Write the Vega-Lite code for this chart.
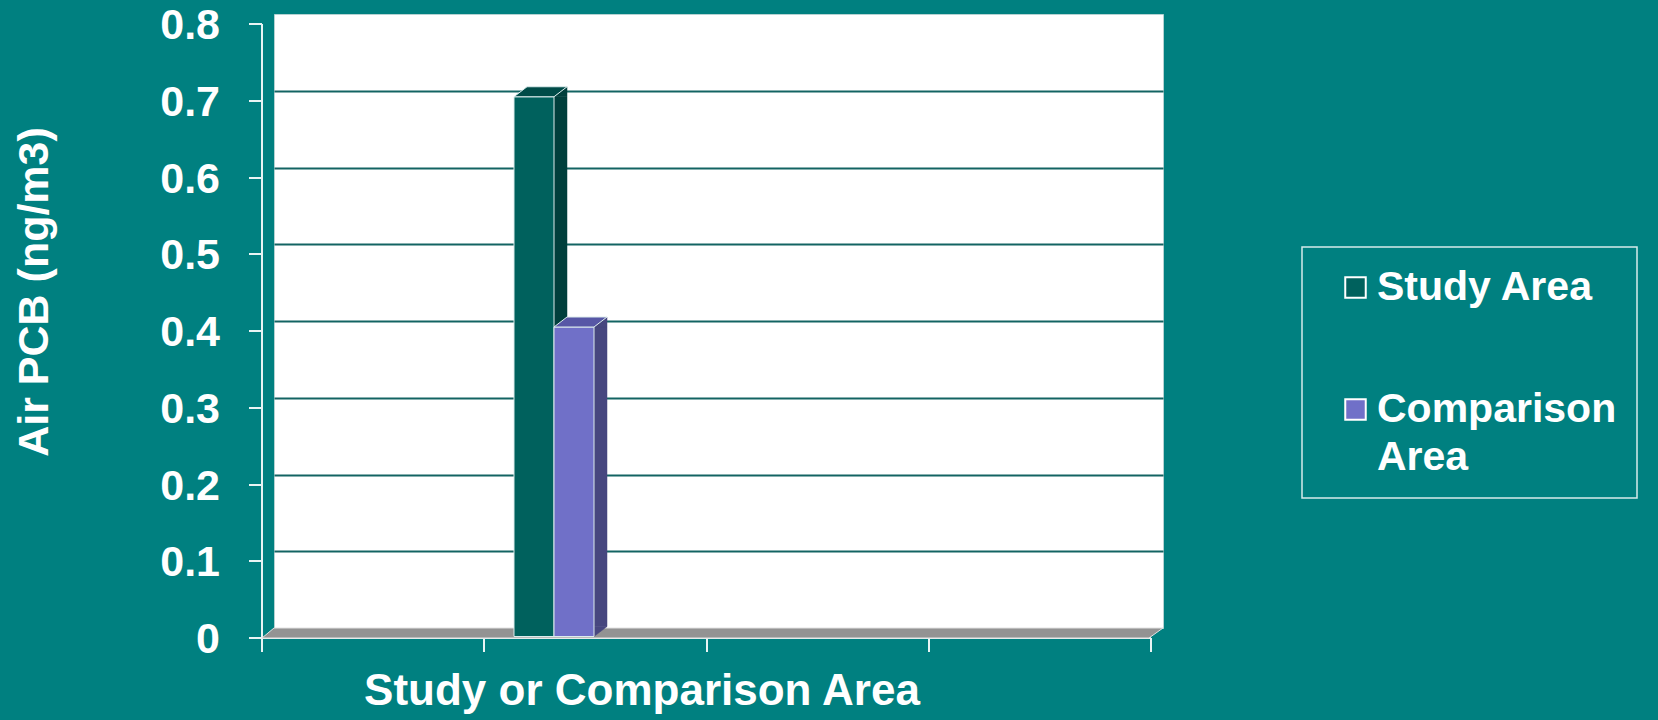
{
  "$schema": "https://vega.github.io/schema/vega-lite/v6.json",
  "width": 889,
  "height": 614,
  "autosize": {"type": "none"},
  "padding": {"left": 274, "top": 14, "right": 495, "bottom": 92},
  "background": "#008080",
  "config": {
    "font": "Liberation Sans",
    "view": {"fill": "white", "stroke": "#b4d2d2", "strokeWidth": 1},
    "legend": {"strokeWidth": 1.5},
    "style": {"guide-label": {"lineHeight": 48}}
  },
  "datasets": {
    "pcb": [
      {"area": "Study Area", "pcb": 0.7},
      {"area": "Comparison Area", "pcb": 0.4}
    ]
  },
  "data": {"name": "pcb"},
  "resolve": {"scale": {"x": "independent"}, "axis": {"y": "independent"}},
  "layer": [
    {
      "data": {"values": [{}]},
      "mark": {
        "type": "point",
        "shape": "M-444.5,0L444.5,0L430.5,10L-456.5,10Z",
        "size": 4,
        "filled": true,
        "opacity": 1,
        "fill": "#939393",
        "stroke": "#e2e2e2",
        "strokeWidth": 1
      },
      "encoding": {
        "x": {
          "datum": 2,
          "type": "quantitative",
          "scale": {"domain": [0, 4], "nice": false, "zero": false},
          "axis": {
            "orient": "bottom",
            "offset": 22,
            "translate": -12,
            "values": [0, 1, 2, 3, 4],
            "labels": false,
            "grid": false,
            "domainColor": "#e8f4f4",
            "domainWidth": 2,
            "tickColor": "#e8f4f4",
            "tickWidth": 2,
            "tickSize": 14,
            "title": "Study or Comparison Area",
            "titleColor": "white",
            "titleFontSize": 44,
            "titleFontWeight": "bold",
            "titleX": 380,
            "titleY": 67,
            "titleAlign": "center",
            "titleBaseline": "alphabetic"
          }
        },
        "y": {
          "datum": 0,
          "type": "quantitative",
          "scale": {"domain": [0, 0.8], "nice": false},
          "axis": {
            "orient": "left",
            "values": [0.1, 0.2, 0.3, 0.4, 0.5, 0.6, 0.7],
            "grid": true,
            "gridColor": "#136463",
            "gridWidth": 2,
            "labels": false,
            "ticks": false,
            "domain": false,
            "title": null
          }
        }
      }
    },
    {
      "mark": {"type": "bar", "width": 13, "xOffset": 26.5, "yOffset": 6, "y2Offset": -1.5, "strokeWidth": 0.5},
      "encoding": {
        "x": {
          "field": "area",
          "type": "nominal",
          "scale": {"type": "band", "domain": ["Study Area", "Comparison Area"], "range": [240, 320], "paddingInner": 0, "paddingOuter": 0},
          "axis": null
        },
        "y": {
          "field": "pcb",
          "type": "quantitative",
          "axis": {
            "orient": "left",
            "offset": 22,
            "translate": 10,
            "values": [0, 0.1, 0.2, 0.3, 0.4, 0.5, 0.6, 0.7, 0.8],
            "format": ".1~f",
            "grid": false,
            "domainColor": "#e8f4f4",
            "domainWidth": 2,
            "tickColor": "#e8f4f4",
            "tickWidth": 2,
            "tickSize": 13,
            "labelColor": "white",
            "labelFontSize": 43,
            "labelFontWeight": "bold",
            "labelPadding": 29,
            "labelOffset": 2,
            "title": "Air PCB (ng/m3)",
            "titleColor": "white",
            "titleFontSize": 43,
            "titleFontWeight": "bold",
            "titleAngle": 270,
            "titleX": -214,
            "titleY": 268,
            "titleAlign": "center",
            "titleBaseline": "alphabetic"
          }
        },
        "y2": {"datum": 0},
        "fill": {"condition": {"test": "datum.area === 'Study Area'", "value": "#003f3c"}, "value": "#47477f"},
        "stroke": {"condition": {"test": "datum.area === 'Study Area'", "value": "#003f3c"}, "value": "#47477f"}
      }
    },
    {
      "mark": {"type": "point", "shape": "M20,6L33,-4L33,6Z", "size": 4, "filled": true, "opacity": 1, "strokeWidth": 0.5},
      "encoding": {
        "x": {
          "field": "area",
          "type": "nominal",
          "scale": {"type": "band", "domain": ["Study Area", "Comparison Area"], "range": [240, 320], "paddingInner": 0, "paddingOuter": 0},
          "axis": null
        },
        "y": {"field": "pcb", "type": "quantitative", "axis": null},
        "fill": {"condition": {"test": "datum.area === 'Study Area'", "value": "#003f3c"}, "value": "#47477f"},
        "stroke": {"condition": {"test": "datum.area === 'Study Area'", "value": "#003f3c"}, "value": "#47477f"}
      }
    },
    {
      "mark": {"type": "point", "shape": "M20,-1.5L33,-1.5L20,8.5Z", "size": 4, "filled": true, "opacity": 1, "strokeWidth": 0.5},
      "encoding": {
        "x": {
          "field": "area",
          "type": "nominal",
          "scale": {"type": "band", "domain": ["Study Area", "Comparison Area"], "range": [240, 320], "paddingInner": 0, "paddingOuter": 0},
          "axis": null
        },
        "y": {"datum": 0, "type": "quantitative", "axis": null},
        "fill": {"condition": {"test": "datum.area === 'Study Area'", "value": "#003f3c"}, "value": "#47477f"},
        "stroke": {"condition": {"test": "datum.area === 'Study Area'", "value": "#003f3c"}, "value": "#47477f"}
      }
    },
    {
      "mark": {"type": "bar", "yOffset": 6, "y2Offset": 8.5, "stroke": "#dcecec", "strokeWidth": 1},
      "encoding": {
        "x": {
          "field": "area",
          "type": "nominal",
          "scale": {"type": "band", "domain": ["Study Area", "Comparison Area"], "range": [240, 320], "paddingInner": 0, "paddingOuter": 0},
          "axis": null
        },
        "y": {"field": "pcb", "type": "quantitative", "axis": null},
        "y2": {"datum": 0},
        "color": {
          "field": "area",
          "type": "nominal",
          "scale": {"domain": ["Study Area", "Comparison Area"], "range": ["#00615d", "#7070c8"]},
          "legend": {
            "orient": "none",
            "legendX": 1028,
            "legendY": 233,
            "title": null,
            "padding": 20,
            "symbolOffset": 13,
            "strokeColor": "#d6eaea",
            "labelColor": "white",
            "labelFontSize": 41,
            "labelFontWeight": "bold",
            "labelLimit": 400,
            "labelOffset": 1,
            "symbolType": "square",
            "symbolSize": 420,
            "symbolStrokeColor": "white",
            "symbolStrokeWidth": 2,
            "rowPadding": 80,
            "labelExpr": "datum.label == 'Comparison Area' ? ['Comparison', 'Area'] : datum.label"
          }
        }
      }
    },
    {
      "mark": {"type": "point", "shape": "M-20,6L20,6L33,-4L-7,-4Z", "size": 4, "filled": true, "opacity": 1, "stroke": "#dcecec", "strokeWidth": 1},
      "encoding": {
        "x": {
          "field": "area",
          "type": "nominal",
          "scale": {"type": "band", "domain": ["Study Area", "Comparison Area"], "range": [240, 320], "paddingInner": 0, "paddingOuter": 0},
          "axis": null
        },
        "y": {"field": "pcb", "type": "quantitative", "axis": null},
        "fill": {"condition": {"test": "datum.area === 'Study Area'", "value": "#004b48"}, "value": "#5757a6"}
      }
    }
  ]
}
